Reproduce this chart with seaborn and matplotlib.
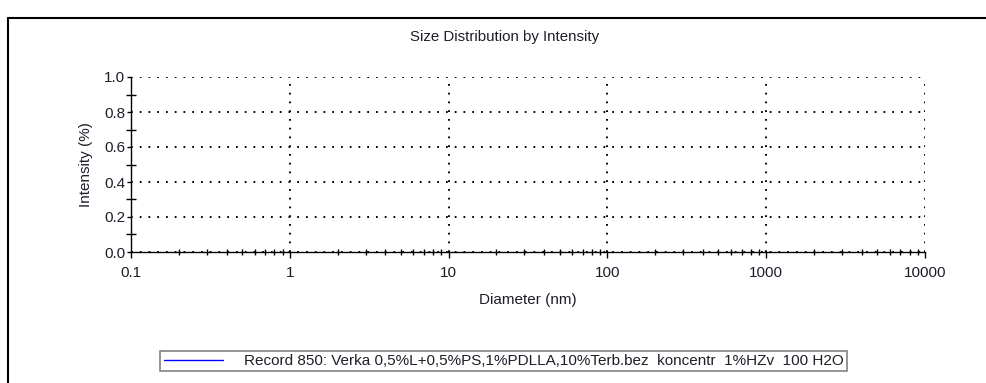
import matplotlib
matplotlib.use("Agg")
import matplotlib.pyplot as plt
from matplotlib.lines import Line2D
from matplotlib.ticker import LogLocator, FixedLocator, NullFormatter
import seaborn as sns
import pandas as pd

# Data (the recorded series shows no visible distribution in the reference)
diameters_nm = []
intensity_pct = []
series_label = "Record 850: Verka 0,5%L+0,5%PS,1%PDLLA,10%Terb.bez  koncentr  1%HZv  100 H2O"
x_ticks = [0.1, 1, 10, 100, 1000, 10000]
x_tick_labels = ["0.1", "1", "10", "100", "1000", "10000"]
y_ticks = [0.0, 0.2, 0.4, 0.6, 0.8, 1.0]
y_tick_labels = ["0.0", "0.2", "0.4", "0.6", "0.8", "1.0"]

sns.set_style("white")
plt.rcParams['font.family'] = ['Liberation Sans', 'DejaVu Sans']

W, H = 987, 383
fig = plt.figure(figsize=(W/100, H/100), dpi=100)
ax = fig.add_axes([131/W, 1-252/H, (925-131)/W, (252-77)/H])

df = pd.DataFrame({"Diameter": diameters_nm, "Intensity": intensity_pct})
ax.plot(df["Diameter"], df["Intensity"], color="#0000ff", lw=1, label=series_label)

txt = "#1e1e2a"
ax.set_xscale("log")
ax.set_xlim(0.1, 10000)
ax.set_ylim(0, 1.0)
ax.set_xticks(x_ticks)
ax.set_xticklabels(x_tick_labels, fontsize=11, color=txt)
ax.set_yticks(y_ticks)
ax.set_yticklabels(y_tick_labels, fontsize=11, color=txt)
ax.xaxis.set_minor_locator(LogLocator(base=10, subs=range(2, 10), numticks=20))
ax.xaxis.set_minor_formatter(NullFormatter())
ax.yaxis.set_minor_locator(FixedLocator([0.1, 0.3, 0.5, 0.7, 0.9]))

for s in ["top", "right"]:
    ax.spines[s].set_visible(False)
for s in ["left", "bottom"]:
    ax.spines[s].set_color("black")
    ax.spines[s].set_linewidth(1)

ax.tick_params(axis="y", which="major", direction="out", length=3, width=1, color="black", pad=1, left=True)
ax.tick_params(axis="y", which="minor", direction="inout", length=7, width=1, color="black", left=True)
ax.tick_params(axis="x", which="major", direction="out", length=4, width=1, color="black", pad=6, bottom=True)
ax.tick_params(axis="x", which="minor", direction="inout", length=4, width=1, color="black", bottom=True)

ax.grid(True, which="major", color="black", linestyle=(0, (0.9, 3.6)), linewidth=1.4)
ax.set_axisbelow(False)

ax.set_xlabel("Diameter (nm)", fontsize=11, color=txt, va="center")
ax.xaxis.set_label_coords(0.5, (252-300)/175)
ax.set_ylabel("Intensity (%)", fontsize=11, color=txt, va="center")
ax.yaxis.set_label_coords((86-131)/794, 0.5)

fig.text(505/W, 1-37/H, "Size Distribution by Intensity", ha="center", va="center",
         fontsize=10.8, color=txt)

leg = fig.legend(handles=ax.get_lines(), labels=[series_label], loc="center",
                 bbox_to_anchor=(503.5/W, 1-361/H), frameon=True, fancybox=False,
                 fontsize=11, handlelength=3.86, handletextpad=1.37, borderpad=0.22,
                 borderaxespad=0)
leg.get_frame().set_edgecolor("#555555")
leg.get_frame().set_linewidth(1.1)
for t in leg.get_texts():
    t.set_color(txt)

# outer frame (top and left edges)
fig.add_artist(Line2D([8/W, 1.0], [1-18/H, 1-18/H], transform=fig.transFigure, color="black", lw=1.5))
fig.add_artist(Line2D([8/W, 8/W], [0, 1-18/H], transform=fig.transFigure, color="black", lw=1.5))

fig.savefig("out.png", dpi=100)
